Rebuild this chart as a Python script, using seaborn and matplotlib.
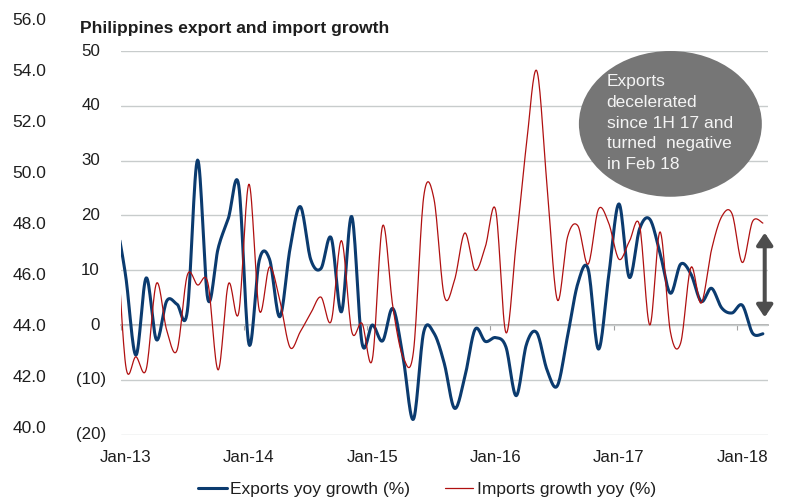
import numpy as np
import pandas as pd
import matplotlib
matplotlib.use("Agg")
import matplotlib.pyplot as plt
import seaborn as sns
from matplotlib.patches import Ellipse

sns.set_style("white")
plt.rcParams["font.family"] = ["Liberation Sans", "DejaVu Sans"]

# Monthly series, Dec-12 to Mar-18 (yoy growth, %)
months = pd.period_range("2012-12", "2018-03", freq="M")
exports = [20.0, 9.0, -5.5, 8.6, -2.7, 4.4, 3.8, 2.5, 30.1, 4.7, 14.0, 19.5, 25.5,
           -3.5, 11.8, 12.0, 1.5, 14.0, 21.6, 12.0, 10.3, 15.9, 2.4, 19.8, -3.3,
           0.0, -2.9, 3.0, -6.0, -17.2, -1.3, -1.5, -7.0, -15.2, -9.5, -0.8, -3.0,
           -2.3, -4.0, -12.9, -3.5, -1.4, -8.2, -11.1, -2.0, 7.6, 10.2, -4.4, 9.0,
           22.1, 8.7, 17.5, 19.3, 13.1, 5.8, 11.1, 9.3, 4.3, 6.7, 3.1, 2.2, 3.6,
           -1.5, -1.6]
imports = [22.0, -7.3, -5.8, -8.1, 7.6, -1.0, -4.6, 9.1, 7.3, 7.7, -8.2, 7.5, 2.2,
           25.7, 2.7, 10.6, 4.5, -4.1, -1.2, 2.1, 5.1, 0.7, 15.4, -1.2, 0.3,
           -6.3, 18.1, 3.3, -5.9, -4.9, 23.4, 23.0, 5.3, 8.2, 16.8, 10.0, 14.3,
           21.0, -1.4, 15.0, 33.0, 46.4, 25.5, 4.6, 16.1, 18.1, 11.1, 21.1, 18.6,
           12.0, 15.2, 18.2, 0.0, 17.0, -1.2, -3.3, 10.5, 4.0, 13.7, 19.8, 20.3,
           11.4, 18.9, 18.6]

xtick_labels = ["Jan-13", "Jan-14", "Jan-15", "Jan-16", "Jan-17", "Jan-18"]
ytick_values = [-20, -10, 0, 10, 20, 30, 40, 50]
ytick_labels = ["(20)", "(10)", "0", "10", "20", "30", "40", "50"]
left_scale_values = [40.0, 42.0, 44.0, 46.0, 48.0, 50.0, 52.0, 54.0, 56.0]

note = "Exports\ndecelerated\nsince 1H 17 and\nturned  negative\nin Feb 18"

BLUE = "#0b3b6f"
RED = "#b01010"
TXT = "#1e1e1e"


def smooth_curve(x, y, n=16):
    """Bezier smoothing through every point (Catmull-Rom style control points)."""
    P = np.column_stack([x, y]).astype(float)
    xs, ys = [], []
    t = np.linspace(0, 1, n, endpoint=False)[:, None]
    for i in range(len(P) - 1):
        p0 = P[max(i - 1, 0)]
        p1 = P[i]
        p2 = P[i + 1]
        p3 = P[min(i + 2, len(P) - 1)]
        c1 = p1 + (p2 - p0) / 6.0
        c2 = p2 - (p3 - p1) / 6.0
        B = ((1 - t) ** 3) * p1 + 3 * ((1 - t) ** 2) * t * c1 + 3 * (1 - t) * t ** 2 * c2 + t ** 3 * p2
        xs.extend(B[:, 0])
        ys.extend(B[:, 1])
    xs.append(P[-1, 0])
    ys.append(P[-1, 1])
    return np.array(xs), np.array(ys)


# month position on the axis: Jan-13 boundary at 0, points mid-month
pos = np.array([(p.year - 2013) * 12 + (p.month - 1) + 0.5 for p in months])

W, H = 787, 501
fig = plt.figure(figsize=(W / 100, H / 100), dpi=100)
ax = fig.add_axes([120.5 / W, 1 - 434.6 / H, 647.5 / W, (434.6 - 51) / H])

ex_x, ex_y = smooth_curve(pos, exports)
im_x, im_y = smooth_curve(pos, imports)
df_ex = pd.DataFrame({"month": ex_x, "value": ex_y})
df_im = pd.DataFrame({"month": im_x, "value": im_y})

sns.lineplot(data=df_ex, x="month", y="value", ax=ax, color=BLUE, linewidth=2.2,
             estimator=None, sort=False, label="Exports yoy growth (%)", zorder=3)
sns.lineplot(data=df_im, x="month", y="value", ax=ax, color=RED, linewidth=0.9,
             estimator=None, sort=False, label="Imports growth yoy (%)", zorder=4)

ax.set_xlim(0, 63)
ax.set_ylim(-20, 50)
ax.set_xlabel("")
ax.set_ylabel("")
for s in ax.spines.values():
    s.set_visible(False)

# horizontal gridlines
ax.set_yticks(ytick_values)
ax.set_yticklabels([])
ax.tick_params(axis="y", length=0)
ax.yaxis.grid(True, color="#c8cccc", linewidth=1.0)
ax.xaxis.grid(False)
ax.set_axisbelow(True)

# y labels, accounting style (positives leave room for the closing bracket)
for v, lab in zip(ytick_values, ytick_labels):
    off = -14.5 if v < 0 else -20.5
    ax.annotate(lab, xy=(0, v), xycoords=ax.get_yaxis_transform(),
                xytext=(off, 0), textcoords="offset pixels",
                ha="right", va="center", fontsize=12.2, color=TXT)

# x labels at the bottom
ax.set_xticks([0.5 + 12 * i for i in range(len(xtick_labels))])
ax.set_xticklabels(xtick_labels, fontsize=12.2, color=TXT)
ax.tick_params(axis="x", length=0, pad=11)

# zero line with small year tick marks
zero_frac = (0 - (-20)) / 70
sec = ax.secondary_xaxis(zero_frac)
sec.set_xticks(list(range(0, 61, 12)))
sec.set_xticklabels([])
sec.tick_params(axis="x", length=3.6, width=0.8, color="#a0a0a0", direction="out")
sec.spines["bottom"].set_color("#a6a6a6")
sec.spines["bottom"].set_linewidth(1.2)
sec.spines["top"].set_visible(False)

# second scale on the far left
axg = fig.add_axes([52 / W, 1 - 427 / H, 0.001, 408 / H])
axg.set_ylim(40, 56)
axg.set_yticks(left_scale_values)
axg.set_yticklabels([f"{v:.1f}" for v in left_scale_values], fontsize=12.5, color=TXT)
axg.tick_params(axis="y", length=0, pad=4)
axg.set_xticks([])
for s in axg.spines.values():
    s.set_visible(False)
axg.patch.set_visible(False)

# call-out bubble
ell = Ellipse((53.5, 36.7), 17.8, 26.6, facecolor="#767676", edgecolor="none",
              zorder=5, clip_on=False)
ax.add_patch(ell)
ax.text(47.3, 36.86, note, color="#f4f4f4", fontsize=12.5, ha="left", va="center",
        linespacing=1.46, zorder=6)

# double-headed arrow at the right edge
ax.annotate("", xy=(62.68, 1.4), xytext=(62.68, 16.85),
            arrowprops=dict(arrowstyle="<|-|>,head_length=0.36,head_width=0.24",
                            color="#4d4d4d", lw=2.9, shrinkA=0, shrinkB=0,
                            mutation_scale=20),
            annotation_clip=False, zorder=6)

# title
fig.text(80 / W, 1 - 28 / H, "Philippines export and import growth",
         fontweight="bold", fontsize=12.5, ha="left", va="center", color=TXT)

# legend below the plot
handles, labels = ax.get_legend_handles_labels()
ax.get_legend().remove()
fig.legend(handles, labels, loc="center", bbox_to_anchor=(427 / W, 1 - 489 / H),
           ncol=2, frameon=False, fontsize=12.5, handlelength=1.65,
           handletextpad=0.2, columnspacing=2.0, labelcolor=TXT)

fig.savefig("out.png", dpi=100)
